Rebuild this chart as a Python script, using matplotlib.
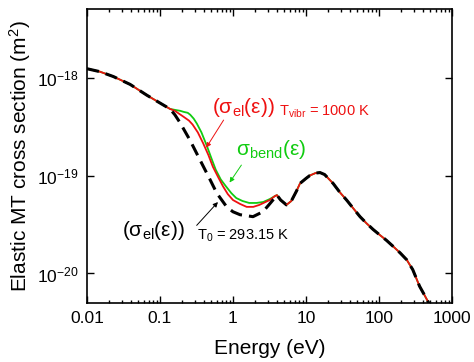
import numpy as np
import matplotlib
matplotlib.use('Agg')
import matplotlib.pyplot as plt
from matplotlib.ticker import FixedLocator, NullLocator, LogLocator, NullFormatter

plt.rcParams['font.family'] = ['Liberation Sans', 'DejaVu Sans']
plt.rcParams['mathtext.fontset'] = 'custom'
plt.rcParams['mathtext.rm'] = 'Liberation Sans'
plt.rcParams['mathtext.it'] = 'Liberation Sans:italic'

# energies (eV) and log10 of cross section (m^2)
# common low-energy part
e_low = [0.01, 0.015, 0.023, 0.039, 0.066, 0.111, 0.137]
s_low = [-17.91, -17.94, -17.99, -18.07, -18.18, -18.28, -18.32]

# common high-energy part
e_high = [4.0, 4.5, 5.4, 6.3, 7.4, 8.3, 10, 11.3, 13.5, 15.6, 18, 23.5, 29, 36,
          45, 55, 68, 83, 100, 126, 160, 195, 240, 290, 360, 420, 480, 530]
s_high = [-19.20, -19.25, -19.30, -19.26, -19.16, -19.08, -19.03, -19.00, -18.975,
          -18.97, -18.99, -19.08, -19.17, -19.25, -19.34, -19.42, -19.49, -19.55,
          -19.60, -19.66, -19.73, -19.79, -19.86, -19.96, -20.13, -20.22, -20.30, -20.38]

# T0 = 293.15 K (black dashed)
e_t0 = [0.16, 0.188, 0.258, 0.353, 0.484, 0.60, 0.82, 1.0, 1.25, 1.88, 2.57, 3.1, 3.53, 3.9]
s_t0 = [-18.38, -18.46, -18.64, -18.84, -19.04, -19.18, -19.32, -19.37, -19.40,
        -19.42, -19.37, -19.30, -19.25, -19.21]

# Tvibr = 1000 K (red)
e_vib = [0.16, 0.21, 0.25, 0.28, 0.33, 0.39, 0.46, 0.53, 0.63, 0.73, 0.85, 1.0,
         1.25, 1.54, 1.9, 2.3, 2.8, 3.2, 3.75]
s_vib = [-18.34, -18.40, -18.44, -18.48, -18.56, -18.67, -18.79, -18.91, -19.02,
         -19.11, -19.19, -19.25, -19.29, -19.32, -19.32, -19.30, -19.27, -19.25, -19.21]

# bending (green)
e_bend = [0.16, 0.19, 0.21, 0.24, 0.26, 0.29, 0.32, 0.37, 0.44, 0.51, 0.58, 0.68,
          0.80, 0.95, 1.11, 1.35, 1.67, 2.1, 2.6, 3.2, 3.75]
s_bend = [-18.33, -18.34, -18.35, -18.36, -18.38, -18.42, -18.47, -18.56, -18.70,
          -18.83, -18.94, -19.04, -19.11, -19.18, -19.23, -19.26, -19.28, -19.28,
          -19.27, -19.24, -19.21]

xticks = [0.01, 0.1, 1, 10, 100, 1000]
xticklabels = ['0.01', '0.1', '1', '10', '100', '1000']
yticks = [1e-20, 1e-19, 1e-18]
yticklabels = ['$10^{-20}$', '$10^{-19}$', '$10^{-18}$']

red = '#ee1111'
green = '#11cc11'


def curve(e_mid, s_mid):
    e = np.array(e_low + e_mid + e_high)
    s = 10.0 ** np.array(s_low + s_mid + s_high)
    return e, s


fig = plt.figure(figsize=(4.74, 3.62), dpi=100)
ax = fig.add_axes([0.1835, 0.163, 0.770, 0.812])

x, y = curve(e_bend, s_bend)
ax.plot(x, y, color=green, lw=1.3)
x, y = curve(e_vib, s_vib)
ax.plot(x, y, color=red, lw=1.3)
x, y = curve(e_t0, s_t0)
ax.plot(x, y, color='black', lw=2.2, dashes=(4.0, 2.3))

ax.set_xscale('log')
ax.set_yscale('log')
ax.set_xlim(0.01, 1000)
ax.set_ylim(5e-21, 5e-18)

ax.xaxis.set_major_locator(FixedLocator(xticks))
ax.set_xticklabels(xticklabels)
ax.xaxis.set_minor_locator(LogLocator(base=10, subs=np.arange(2, 10)))
ax.xaxis.set_minor_formatter(NullFormatter())
ax.yaxis.set_major_locator(FixedLocator(yticks))
ax.set_yticklabels(yticklabels)
ax.yaxis.set_minor_locator(NullLocator())

ax.tick_params(which='both', direction='in', top=True, right=True, labelsize=12.5, width=1.0)
ax.tick_params(which='major', length=5, pad=6)
ax.tick_params(which='minor', length=2.5)
for sp in ax.spines.values():
    sp.set_linewidth(1.2)

ax.set_xlabel('Energy (eV)', fontsize=15, labelpad=9)
ax.set_ylabel('Elastic MT cross section (m$^2$)', fontsize=15, labelpad=3)

# annotations
ax.text(0.515, 10 ** -18.36, r'$\mathrm{(σ_{el}(ε))}$', color=red, fontsize=15)
ax.text(4.27, 10 ** -18.39, r'$\mathrm{T_{vibr}}$ = 1000 K', color=red, fontsize=10.5)
ax.annotate('', xy=(0.41, 10 ** -18.74), xytext=(0.78, 10 ** -18.41),
            arrowprops=dict(arrowstyle='-|>', color=red, lw=0.7, mutation_scale=7))

ax.text(1.1, 10 ** -18.79, r'$\mathrm{σ_{bend}(ε)}$', color=green, fontsize=15)
ax.annotate('', xy=(0.855, 10 ** -19.095), xytext=(1.37, 10 ** -18.87),
            arrowprops=dict(arrowstyle='-|>', color=green, lw=0.7, mutation_scale=7))

ax.text(0.030, 10 ** -19.62, r'$\mathrm{(σ_{el}(ε))}$', color='black', fontsize=15)
ax.text(0.32, 10 ** -19.65, r'$\mathrm{T_{0}}$ = 293.15 K', color='black', fontsize=10.5)
ax.annotate('', xy=(0.66, 10 ** -19.25), xytext=(0.30, 10 ** -19.53),
            arrowprops=dict(arrowstyle='-|>', color='black', lw=0.7, mutation_scale=7))

fig.savefig('out.png', dpi=100)
